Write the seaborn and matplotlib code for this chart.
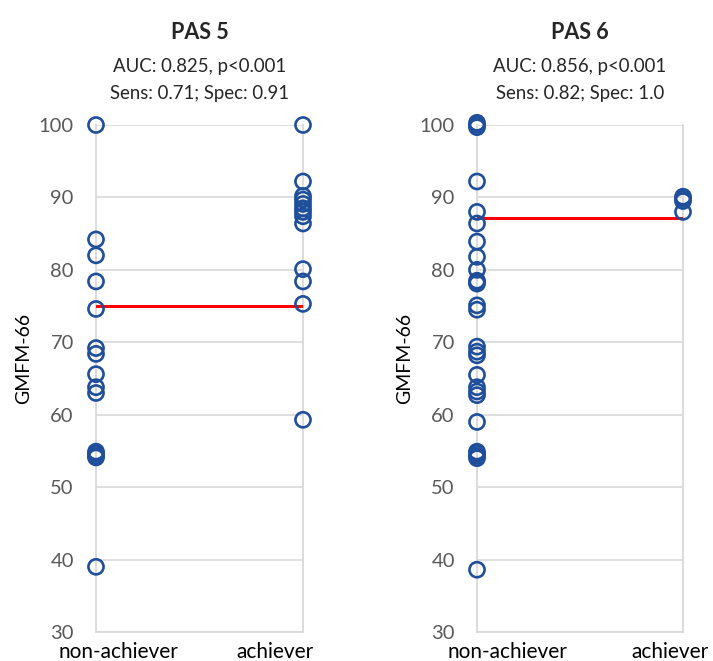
import numpy as np
import pandas as pd
import matplotlib
matplotlib.use("Agg")
from matplotlib import pyplot as plt
import seaborn as sns

# GMFM-66 values
pas5_non = [100, 84.2, 82.0, 78.4, 74.6, 69.2, 68.4, 65.6, 63.8, 63.0,
            54.9, 54.6, 54.3, 54.1, 39.0]
pas5_ach = [100, 92.2, 90.2, 89.7, 89.1, 88.5, 88.0, 87.4, 86.4,
            80.1, 78.4, 75.3, 59.3]
pas5_cut = 75.0

pas6_non = [100.3, 100, 99.7, 92.2, 88.0, 86.4, 83.9, 81.8, 80.0, 78.5,
            78.3, 78.1, 75.1, 74.5, 69.4, 68.7, 68.2, 65.5, 63.8, 63.2,
            62.7, 59.0, 54.9, 54.6, 54.3, 54.0, 38.6]
pas6_ach = [90.1, 89.8, 89.5, 88.0]
pas6_cut = 87.1

groups = ["non-achiever", "achiever"]
titles = ["PAS 5", "PAS 6"]
stat_lines = [["AUC: 0.825, p<0.001", "Sens: 0.71; Spec: 0.91"],
              ["AUC: 0.856, p<0.001", "Sens: 0.82; Spec: 1.0"]]
yticks = [30, 40, 50, 60, 70, 80, 90, 100]

sns.set_style("white")
plt.rcParams["font.family"] = ["Lato", "DejaVu Sans"]

blauw = "#1F4E9B"
sede = "#D9D9D9"
text_sede = "#595959"

fig = plt.figure(figsize=(7.13, 6.61), dpi=100)
ax5 = fig.add_axes([96/713, 1-632/661, 207/713, 507/661])
ax6 = fig.add_axes([477/713, 1-632/661, 206/713, 507/661])

panely = [(ax5, pas5_non, pas5_ach, pas5_cut, (0.106, 0.865)),
          (ax6, pas6_non, pas6_ach, pas6_cut, (0.15, 0.937))]

for i, (ax, non, ach, cut, lab_x) in enumerate(panely):
  df = pd.DataFrame({"x": [1]*len(non) + [2]*len(ach),
                     "GMFM-66": non + ach})
  # prahova hodnota
  cut_df = pd.DataFrame({"x": [1, 2], "y": [cut, cut]})
  sns.lineplot(data=cut_df, x="x", y="y", color="#FF0000", lw=2.2, ax=ax,
               zorder=3)
  sns.scatterplot(data=df, x="x", y="GMFM-66", ax=ax, marker="o",
                  s=118, facecolor="none", edgecolor=blauw, linewidth=1.9,
                  clip_on=False, zorder=4)
  ax.set_xlim(1, 2)
  ax.set_ylim(30, 100)
  ax.set_yticks(yticks)
  ax.set_xticks([])
  ax.set_xlabel("")
  ax.grid(axis="y", color=sede, lw=1.2)
  ax.set_axisbelow(True)
  for s in ["left", "bottom", "right"]:
    ax.spines[s].set_color(sede)
    ax.spines[s].set_linewidth(1.3)
  ax.spines["top"].set_visible(False)
  ax.tick_params(axis="y", length=0, pad=16, labelsize=14.5,
                 labelcolor=text_sede)
  ax.set_ylabel("GMFM-66", fontsize=14, color="black")
  ax.yaxis.set_label_coords(-0.31, 0.54)

  # popisky kategorii
  for g, xx in zip(groups, lab_x):
    ax.text(xx, -0.04, g, transform=ax.transAxes, ha="center", va="center",
            fontsize=15, color="black")

  # titulek
  ax.text(0.5, 1.183, titles[i], transform=ax.transAxes, ha="center",
          va="center", fontsize=15.5, fontweight="bold")
  ax.text(0.5, 1.116, stat_lines[i][0], transform=ax.transAxes,
          ha="center", va="center", fontsize=13.4)
  ax.text(0.5, 1.063, stat_lines[i][1], transform=ax.transAxes,
          ha="center", va="center", fontsize=13.4)

fig.savefig("out.png", dpi=100)
